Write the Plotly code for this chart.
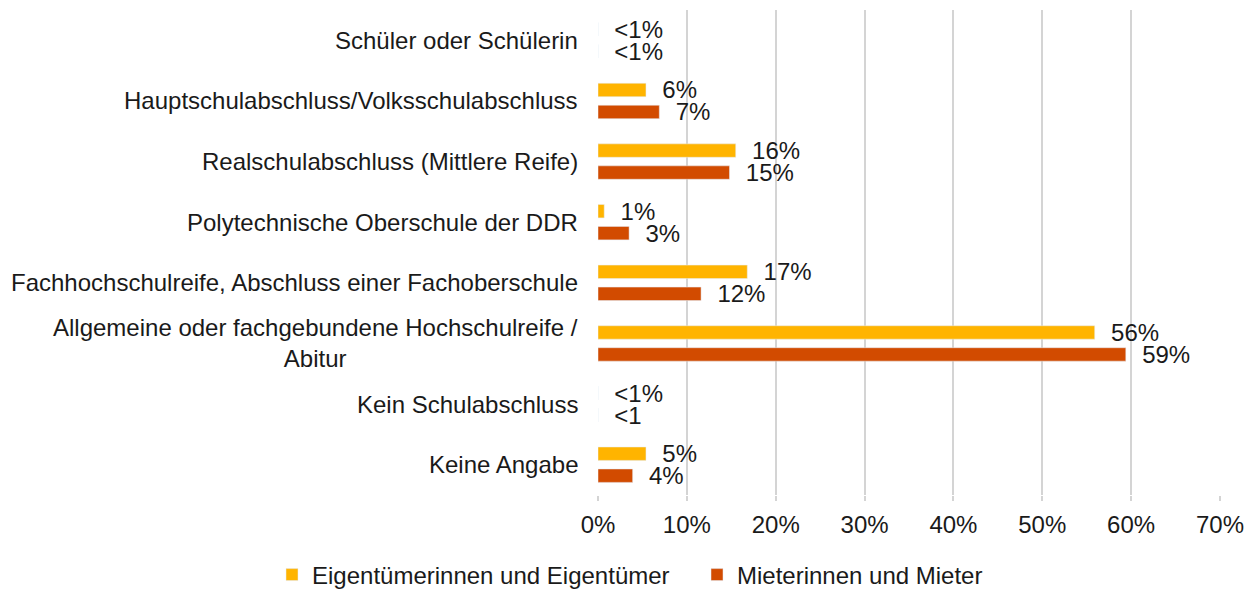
import plotly.graph_objects as go

categories = [
    "Schüler oder Schülerin",
    "Hauptschulabschluss/Volksschulabschluss",
    "Realschulabschluss (Mittlere Reife)",
    "Polytechnische Oberschule der DDR",
    "Fachhochschulreife, Abschluss einer Fachoberschule",
    "Allgemeine oder fachgebundene Hochschulreife /<br>Abitur",
    "Kein Schulabschluss",
    "Keine Angabe",
]
eigentuemer_values = [0, 5.4, 15.5, 0.7, 16.8, 55.9, 0, 5.4]
eigentuemer_labels = ["<1%", "6%", "16%", "1%", "17%", "56%", "<1%", "5%"]
mieter_values = [0, 6.9, 14.8, 3.5, 11.6, 59.4, 0, 3.9]
mieter_labels = ["<1%", "7%", "15%", "3%", "12%", "59%", "<1", "4%"]
x_ticks = [0, 10, 20, 30, 40, 50, 60, 70]
x_tick_labels = ["0%", "10%", "20%", "30%", "40%", "50%", "60%", "70%"]

FONT = "Liberation Sans, Arial, sans-serif"
TXT = "#1a1a1a"
FS = 24

# the page adds an 8px body margin, so the figure is 8px smaller than the window
W, H = 1247, 581

fig = go.Figure()
fig.add_trace(go.Bar(
    y=categories, x=eigentuemer_values, orientation="h",
    name="Eigentümerinnen und Eigentümer",
    marker=dict(color="#FFB400"),
    text=eigentuemer_labels, texttemplate="\u00a0\u00a0%{text}",
    textposition="outside", constraintext="none", cliponaxis=False,
    textfont=dict(family=FONT, size=FS, color=TXT),
    legend="legend",
))
fig.add_trace(go.Bar(
    y=categories, x=mieter_values, orientation="h",
    name="Mieterinnen und Mieter",
    marker=dict(color="#D24B00"),
    text=mieter_labels, texttemplate="\u00a0\u00a0%{text}",
    textposition="outside", constraintext="none", cliponaxis=False,
    textfont=dict(family=FONT, size=FS, color=TXT),
    legend="legend2",
))

for c in categories:
    fig.add_annotation(
        x=0, xref="paper", y=c, yref="y", text=c, showarrow=False,
        xanchor="right", xshift=-18, align="center",
        font=dict(family=FONT, size=FS, color=TXT),
    )

leg_common = dict(
    orientation="h", xanchor="left",
    yref="container", y=14 / H, yanchor="middle",
    font=dict(family=FONT, size=FS, color=TXT),
    bgcolor="rgba(0,0,0,0)",
)

fig.update_layout(
    width=W, height=H,
    margin=dict(l=590, r=35, t=2, b=94),
    paper_bgcolor="white", plot_bgcolor="white",
    barmode="group", bargap=0.275, bargroupgap=0.39,
    font=dict(family=FONT, size=FS, color=TXT),
    showlegend=True,
    legend=dict(xref="container", x=264 / W, **leg_common),
    legend2=dict(xref="container", x=689 / W, **leg_common),
)
fig.update_xaxes(
    range=[0, 70], tickvals=x_ticks, ticktext=x_tick_labels,
    showgrid=True, gridcolor="#d4d4d4", gridwidth=1.5,
    zeroline=False, showline=False,
    ticks="outside", ticklen=5, tickcolor="#d4d4d4", tickwidth=1.5,
    ticklabelstandoff=3,
    tickfont=dict(family=FONT, size=FS, color=TXT),
)
fig.update_yaxes(
    autorange="reversed", showticklabels=False, showgrid=False,
    zeroline=False, showline=False, ticks="",
)

fig.write_html("out.html")
